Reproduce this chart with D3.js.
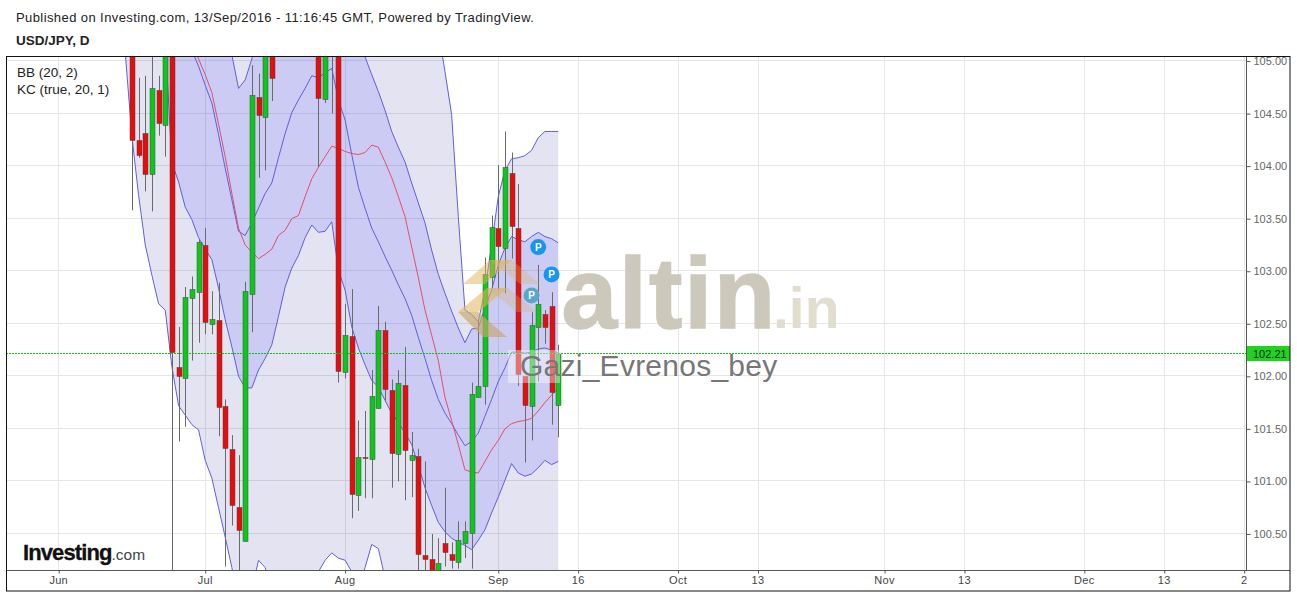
<!DOCTYPE html>
<html>
<head>
<meta charset="utf-8">
<script src="https://cdn.jsdelivr.net/npm/d3@7"></script>
<style>
  html, body { margin: 0; padding: 0; background: #fff; overflow: hidden; }
  svg { display: block; }
  text { font-family: "Liberation Sans", Arial, sans-serif; }
</style>
</head>
<body>
<div id="chart"></div>
<script>
// daily candles, first one and the July ones sit above the visible range
const opens = [105.60,105.30,104.25,104.32,103.92,104.72,104.39,105.50,102.09,101.98,102.74,102.80,103.25,102.50,102.54,101.72,101.31,100.76,100.43,102.79,104.66,104.47,105.40,
  105.50,105.90,106.10,106.30,106.20,106.00,
  105.60,104.63,105.60,105.40,102.04,102.38,100.87,101.23,101.21,101.70,102.44,101.87,101.26,101.92,101.20,101.24,100.30,100.26,100.10,100.41,100.31,100.23,100.42,100.51,101.81,101.90,102.94,103.41,103.22,103.93,103.41,102.00,101.72,102.47,102.59,102.67,101.72];
const highs = [105.80,105.50,104.84,104.86,105.30,104.86,105.60,105.70,102.47,102.85,102.95,103.30,103.41,102.81,102.89,101.78,101.44,101.25,102.90,104.96,104.88,105.50,105.60,
  106.00,106.30,106.50,106.60,106.50,106.30,
  105.80,105.70,105.80,105.50,102.69,102.83,101.58,101.67,102.06,102.67,102.52,101.97,102.06,102.28,101.47,101.31,101.19,100.50,100.46,100.94,100.42,100.62,100.62,101.94,102.54,103.13,103.53,104.01,104.33,104.13,103.83,102.00,102.61,103.06,102.63,102.80,102.30];
const lows = [105.30,103.58,104.08,103.76,103.57,104.29,104.09,99.50,101.38,101.52,102.15,102.32,102.40,102.40,101.43,100.19,100.58,100.10,100.43,102.42,103.89,103.96,104.62,
  105.25,105.40,105.70,105.90,105.80,105.60,
  103.99,104.60,104.50,101.94,101.98,100.65,100.72,100.84,100.84,101.69,101.77,100.94,101.00,100.82,100.85,100.05,100.10,100.00,100.00,100.19,100.17,100.17,100.27,100.17,101.80,101.73,102.84,102.82,102.79,103.12,101.91,101.18,101.39,101.95,102.31,101.54,101.42];
const closes = [105.40,104.25,104.11,103.93,104.74,104.41,105.40,102.23,102.00,102.75,102.83,103.28,102.52,102.55,101.71,101.32,100.78,100.54,102.81,104.68,104.49,105.30,104.84,
  105.90,106.10,106.30,106.20,106.00,105.70,
  104.65,105.50,105.20,102.05,102.39,100.88,101.23,101.22,101.81,102.44,101.88,101.27,101.94,101.30,101.25,100.31,100.26,100.11,100.22,100.32,100.25,100.44,100.53,101.83,101.91,102.97,103.42,103.24,103.99,103.43,102.02,101.72,102.49,102.69,102.47,101.85,102.21];

// BB (20, 2)
const bbUpper = [111.40,111.40,111.30,111.20,111.10,111.00,110.90,110.80,110.60,110.40,110.20,110.00,109.80,109.60,109.40,109.20,109.20,109.20,109.10,109.00,108.90,108.80,108.70,108.60,108.50,108.40,108.40,108.30,108.30,108.20,108.20,108.10,108.00,108.00,107.90,107.80,107.80,107.70,107.60,107.50,107.40,107.30,107.20,107.10,106.80,106.40,106.00,
  105.29,104.90,104.49,103.52,102.63,102.59,102.52,102.82,103.25,103.71,103.96,104.07,104.08,104.10,104.15,104.27,104.33,104.33,104.33];
const bbMiddle = [107.10,107.00,106.90,106.80,106.70,106.50,106.30,106.10,105.80,105.50,
  105.20,105.02,104.87,104.70,104.40,104.09,103.74,103.41,103.25,103.18,103.12,103.16,103.21,103.34,103.39,103.50,103.53,103.71,103.88,103.99,104.09,104.19,104.17,104.14,104.12,104.11,104.13,104.20,104.18,104.04,103.89,103.71,103.52,103.23,102.94,102.63,102.39,102.15,101.80,101.58,101.35,101.11,101.09,101.08,101.19,101.30,101.39,101.50,101.55,101.57,101.58,101.60,101.67,101.75,101.82,101.89];
const bbLower = [105.07,104.28,103.72,103.25,102.96,102.69,102.63,102.09,101.72,101.63,101.54,101.49,101.20,101.03,100.75,100.47,100.18,99.87,99.68,99.97,100.25,100.18,99.97,99.68,99.59,99.63,99.78,99.87,99.97,100.14,100.25,100.32,100.27,100.25,100.14,99.97,100.18,100.40,100.36,100.08,99.87,99.68,99.49,99.30,99.11,99.02,99.02,99.11,99.21,99.40,99.49,99.56,99.57,99.58,99.49,99.40,99.35,99.30,99.25,99.25,99.30,99.35,99.40,99.42,99.45,99.45];

// KC (true, 20, 1)
const kcUpper = [108.20,108.10,108.00,107.90,107.80,107.60,107.40,107.20,107.00,106.80,106.60,106.40,106.20,106.00,105.70,
  105.39,105.06,104.74,104.82,105.02,105.29,105.60,105.80,106.00,106.20,106.30,106.40,106.40,106.30,106.30,106.20,106.20,106.00,105.80,105.50,105.29,
  105.04,104.87,104.71,104.53,104.33,104.18,104.04,103.84,103.65,103.46,103.20,102.97,102.79,102.62,102.46,102.32,102.45,102.46,102.65,102.82,103.06,103.22,103.33,103.30,103.28,103.33,103.37,103.33,103.31,103.27];
const kcMiddle = [106.60,106.50,106.40,106.30,106.20,106.10,106.00,105.80,105.60,105.35,
  105.10,104.95,104.77,104.60,104.30,103.98,103.68,103.38,103.34,103.46,103.60,103.74,103.84,104.08,104.31,104.51,104.63,104.74,104.86,104.84,104.89,104.93,104.63,104.44,104.11,103.80,103.60,103.41,103.28,103.14,103.01,102.87,102.74,102.58,102.37,102.17,101.96,101.78,101.65,101.55,101.44,101.34,101.38,101.46,101.62,101.78,101.95,102.08,102.23,102.23,102.22,102.23,102.26,102.27,102.25,102.22];
const kcLower = [106.10,106.00,105.90,105.80,105.60,105.40,
  105.20,104.03,103.85,103.61,103.49,103.32,103.21,103.11,102.84,102.54,102.28,102.00,101.89,101.89,102.06,102.17,102.30,102.57,102.85,103.03,103.15,103.32,103.44,103.37,103.38,103.47,103.01,102.82,102.47,102.27,102.11,101.96,101.90,101.77,101.65,101.56,101.46,101.35,101.15,100.94,100.77,100.61,100.52,100.46,100.42,100.39,100.35,100.44,100.54,100.70,100.85,101.01,101.17,101.08,101.05,101.07,101.13,101.20,101.16,101.19];

const yTicks = [100.5,101,101.5,102,102.5,103,103.5,104,104.5,105];
const xTickBars = [-10,12,33,56,68,83,95,114,126,144,156,168];
const xTickLabels = ["Jun","Jul","Aug","Sep","16","Oct","13","Nov","13","Dec","13","2"];
const lastPrice = 102.21;
// "P" publication markers: bar index, price, opacity
const pBars = [62,64,61];
const pPrices = [103.23,102.97,102.77];
const pFaded = [false,false,true];

const W = 1297, H = 594;
const margin = {top: 56, right: 51, bottom: 24, left: 6};
const plotRight = W - margin.right, plotBottom = H - margin.bottom;

const x = d3.scaleLinear().domain([0, 65]).range([125.3, 558.2]);
const y = d3.scaleLinear().domain([100.157, 105.048]).range([plotBottom, margin.top]);
const days = d3.range(opens.length);
const lastY = Math.round(y(lastPrice)) - 1;

const svg = d3.select("#chart").append("svg").attr("width", W).attr("height", H);

svg.append("text").attr("x", 16).attr("y", 21.5)
   .style("font-size", "13px").style("letter-spacing", "0.41px").style("fill", "#222")
   .text("Published on Investing.com, 13/Sep/2016 - 11:16:45 GMT, Powered by TradingView.");
svg.append("text").attr("x", 16).attr("y", 45)
   .style("font-size", "13.5px").style("font-weight", "bold").style("fill", "#222")
   .text("USD/JPY, D");

svg.append("clipPath").attr("id", "plot").append("rect")
   .attr("x", margin.left).attr("y", margin.top)
   .attr("width", plotRight - margin.left).attr("height", plotBottom - margin.top);

const plot = svg.append("g").attr("clip-path", "url(#plot)");

// gridlines
plot.selectAll(".hgrid").data(yTicks).enter().append("line")
    .attr("x1", margin.left).attr("x2", plotRight)
    .attr("y1", d => Math.floor(y(d) - 0.5) + 0.5).attr("y2", d => Math.floor(y(d) - 0.5) + 0.5)
    .attr("stroke", "#e6e6e6");
plot.selectAll(".vgrid").data(xTickBars).enter().append("line")
    .attr("y1", margin.top).attr("y2", plotBottom)
    .attr("x1", d => Math.floor(x(d)) + 0.5).attr("x2", d => Math.floor(x(d)) + 0.5)
    .attr("stroke", "#e6e6e6");

// band fills
const band = (upper, lower) => d3.area().x(i => x(i)).y0(i => y(lower[i])).y1(i => y(upper[i]));
plot.append("path").datum(days).attr("d", band(bbUpper, bbLower))
    .attr("fill", "#000080").attr("fill-opacity", 0.11);
plot.append("path").datum(days).attr("d", band(kcUpper, kcLower))
    .attr("fill", "#6060ff").attr("fill-opacity", 0.18);

// band lines
const bandLine = values => d3.line().x(i => x(i)).y(i => y(values[i]));
[bbUpper, bbLower, kcUpper, kcMiddle, kcLower].forEach(values => {
  plot.append("path").datum(days).attr("d", bandLine(values))
      .attr("fill", "none").attr("stroke", "#5f5fdc").attr("stroke-width", 1);
});
plot.append("path").datum(days).attr("d", bandLine(bbMiddle))
    .attr("fill", "none").attr("stroke", "#e2506a").attr("stroke-width", 1);

// candles
plot.selectAll(".wick").data(days).enter().append("line")
    .attr("x1", i => Math.round(x(i)) + 0.5).attr("x2", i => Math.round(x(i)) + 0.5)
    .attr("y1", i => y(highs[i])).attr("y2", i => y(lows[i]))
    .attr("stroke", "#6a6a6a");
plot.selectAll(".body").data(days).enter().append("rect")
    .attr("x", i => Math.round(x(i)) - 2)
    .attr("width", 5)
    .attr("y", i => Math.round(y(Math.max(opens[i], closes[i]))) + 0.5)
    .attr("height", i => Math.max(1, Math.round(Math.abs(y(opens[i]) - y(closes[i])))))
    .attr("fill", i => closes[i] > opens[i] ? "#0bc81b" : "#e80c0c")
    .attr("stroke", "#444").attr("stroke-width", 0.5);

// last price line
plot.append("line")
    .attr("x1", margin.left).attr("x2", plotRight)
    .attr("y1", lastY + 0.5).attr("y2", lastY + 0.5)
    .attr("stroke", "#10c010").attr("stroke-dasharray", "2,1");

// P markers
const marks = plot.selectAll(".pmark").data(pBars).enter().append("g")
    .attr("transform", (d, i) => `translate(${x(d)},${y(pPrices[i])})`);
marks.append("circle").attr("r", 8)
     .attr("fill", (d, i) => pFaded[i] ? "#5aa6ca" : "#1496f2");
marks.append("text").attr("text-anchor", "middle").attr("dy", "0.36em")
     .style("font-size", "10px").style("font-weight", "bold").style("fill", "#fff").text("P");

// altin.in watermark
const mark = svg.append("g");
[
  ["463,284 490,260 512,260 485,284", "#e2b45a", 0.5],
  ["458,312 487,288 508,288 478,312", "#e2b45a", 0.55],
  ["458,312 483,337 507,337 478,312", "#c8a868", 0.65],
  ["512,260 540,284 520,284 490,260", "#e2b45a", 0.3],
  ["508,288 537,312 517,312 487,288", "#d8b070", 0.3]
].forEach(([points, fill, alpha]) => {
  mark.append("polygon").attr("points", points).attr("fill", fill).attr("fill-opacity", alpha);
});
mark.append("text").attr("x", 561.5).attr("y", 328)
    .style("font-size", "100px").style("font-weight", "bold").style("fill", "#cdc8bc")
    .style("stroke", "#cdc8bc").style("stroke-width", 1.5).style("letter-spacing", "2px").text("altin");
mark.append("text").attr("x", 773).attr("y", 328)
    .style("font-size", "57px").style("font-weight", "bold").style("fill", "#e2decf").text(".in");
mark.append("rect").attr("x", 508).attr("y", 350).attr("width", 52).attr("height", 33)
    .attr("fill", "#fff").attr("fill-opacity", 0.4);
mark.append("text").attr("x", 520).attr("y", 376)
    .style("font-size", "30px").style("letter-spacing", "0.25px").style("fill", "#777").text("Gazi_Evrenos_bey");

// axes
const yAxis = svg.append("g").attr("transform", `translate(${plotRight + 0.5},0)`)
   .call(d3.axisRight(y).tickValues(yTicks).tickFormat(d3.format(".2f")).tickSize(4).tickSizeOuter(0));
const xAxis = svg.append("g").attr("transform", `translate(0,${plotBottom + 0.5})`)
   .call(d3.axisBottom(x).tickValues(xTickBars).tickFormat((d, i) => xTickLabels[i]).tickSize(3).tickSizeOuter(0));
yAxis.select(".domain").remove();
xAxis.select(".domain").remove();
yAxis.selectAll("text").attr("x", 7).style("font-size", "11px").style("fill", "#666");
yAxis.selectAll("line").attr("stroke", "#555");
xAxis.selectAll("text").attr("y", 6).attr("dx", "-0.5px").style("font-size", "11px").style("fill", "#444").style("letter-spacing", "0.3px");
xAxis.selectAll("line").attr("stroke", "#555");

svg.append("line").attr("x1", plotRight + 0.5).attr("x2", plotRight + 0.5)
   .attr("y1", margin.top).attr("y2", plotBottom).attr("stroke", "#555");
svg.append("line").attr("x1", margin.left).attr("x2", W - 7)
   .attr("y1", plotBottom + 0.5).attr("y2", plotBottom + 0.5).attr("stroke", "#555");

// last price tag
svg.append("rect").attr("x", plotRight + 1).attr("y", lastY - 7)
   .attr("width", 43).attr("height", 15).attr("fill", "#1fd41f");
svg.append("text").attr("x", plotRight + 7).attr("y", lastY + 4.5)
   .style("font-size", "11px").style("fill", "#222").text(d3.format(".2f")(lastPrice));

svg.append("rect").attr("x", margin.left + 0.5).attr("y", margin.top + 0.5)
   .attr("width", W - 7 - margin.left - 0.5).attr("height", H - 3 - margin.top - 0.5)
   .attr("fill", "none").attr("stroke", "#111");

// legend
svg.append("text").attr("x", 17).attr("y", 77).style("font-size", "13.5px").style("fill", "#222").text("BB (20, 2)");
svg.append("text").attr("x", 17).attr("y", 94).style("font-size", "13.5px").style("fill", "#222").text("KC (true, 20, 1)");

// Investing.com logo
const logo = svg.append("text").attr("x", 23).attr("y", 560);
logo.append("tspan").style("font-size", "22px").style("font-weight", "bold").style("letter-spacing", "-0.9px")
    .style("fill", "#111").style("stroke", "#111").style("stroke-width", 0.3).text("Investing");
logo.append("tspan").style("font-size", "15.5px").style("fill", "#444").text(".com");
</script>
</body>
</html>
